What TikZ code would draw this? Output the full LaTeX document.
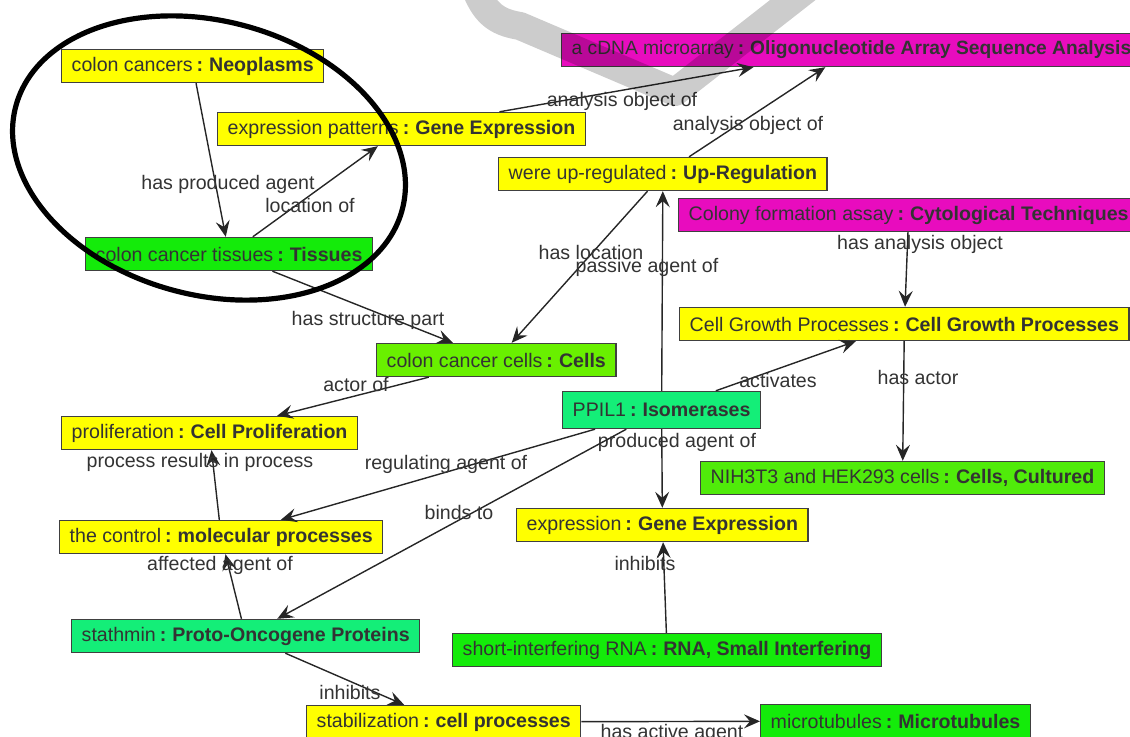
\documentclass[tikz,border=0pt]{standalone}
\usepackage{fontspec}
\setmainfont{Liberation Sans}
\usetikzlibrary{arrows.meta}
\definecolor{cyellow}{RGB}{255,255,0}
\definecolor{cmagenta}{RGB}{232,12,190}
\definecolor{cgreen}{RGB}{20,235,10}
\definecolor{clime}{RGB}{105,240,0}
\definecolor{cnih}{RGB}{80,235,10}
\definecolor{cspring}{RGB}{20,238,120}
\newcommand{\cn}[2]{#1\hspace{2pt}\textbf{:\hspace{3pt}#2}}
\begin{document}
\begin{tikzpicture}[x=0.5pt,y=-0.5pt,
  concept/.style={draw=black!75,line width=0.7pt,anchor=west,minimum height=16.5pt,
    inner xsep=5pt,inner ysep=0pt,font=\fontsize{9.8}{11}\selectfont,text=black!80},
  rel/.style={-{Stealth[length=8pt,width=7pt,inset=3pt]},line width=0.7pt,black!85},
  lbl/.style={font=\fontsize{9.8}{11}\selectfont,text=black!80,inner sep=0pt}]
\useasboundingbox (0,0) rectangle (1130,737);
\clip (0,0) rectangle (1130,737);
% concepts
\node[concept,fill=cyellow] (neo) at (61,66) {\cn{colon cancers}{Neoplasms}};
\node[concept,fill=cyellow] (pat) at (217,129) {\cn{expression patterns}{Gene Expression}};
\node[concept,fill=cmagenta,font=\fontsize{9.6}{11}\selectfont] (micro) at (561,50) {\cn{a cDNA microarray}{Oligonucleotide Array Sequence Analysis}};
\node[concept,fill=cyellow] (upreg) at (498,174) {\cn{were up-regulated}{Up-Regulation}};
\node[concept,fill=cmagenta] (assay) at (678,215) {\cn{Colony formation assay}{Cytological Techniques}};
\node[concept,fill=cgreen] (tis) at (85,254) {\cn{colon cancer tissues}{Tissues}};
\node[concept,fill=clime] (cells) at (376,360) {\cn{colon cancer cells}{Cells}};
\node[concept,fill=cyellow] (growth) at (679,324) {\cn{Cell Growth Processes}{Cell Growth Processes}};
\node[concept,fill=cspring,minimum height=18.5pt] (ppil) at (562,410) {\cn{PPIL1}{Isomerases}};
\node[concept,fill=cyellow] (prolif) at (61,433) {\cn{proliferation}{Cell Proliferation}};
\node[concept,fill=cnih] (nih) at (700,478) {\cn{NIH3T3 and HEK293 cells}{Cells, Cultured}};
\node[concept,fill=cyellow] (ctrl) at (59,537) {\cn{the control}{molecular processes}};
\node[concept,fill=cyellow] (expr) at (516,525) {\cn{expression}{Gene Expression}};
\node[concept,fill=cspring] (stath) at (71,636) {\cn{stathmin}{Proto-Oncogene Proteins}};
\node[concept,fill=cgreen] (sirna) at (452,650) {\cn{short-interfering RNA}{RNA, Small Interfering}};
\node[concept,fill=cyellow] (stab) at (306,722) {\cn{stabilization}{cell processes}};
\node[concept,fill=cgreen] (tub) at (760,721) {\cn{microtubules}{Microtubules}};
% relations
\draw[rel] (neo) -- (tis) node[lbl] at (228,184) {has produced agent};
\draw[rel] (tis) -- (pat) node[lbl] at (310,205) {location of};
\draw[rel] (pat) -- (micro) node[lbl] at (622,101) {analysis object of};
\draw[rel] (upreg) -- (micro) node[lbl] at (748,125) {analysis object of};
\draw[rel] (upreg) -- (cells) node[lbl] at (591,252) {has location};
\draw[rel] (ppil) -- (upreg) node[lbl] at (647,267) {passive agent of};
\draw[rel] (assay) -- (growth) node[lbl] at (920,244) {has analysis object};
\draw[rel] (tis) -- (cells) node[lbl] at (368,320) {has structure part};
\draw[rel] (cells) -- (prolif) node[lbl] at (356,385) {actor of};
\draw[rel] (ppil) -- (growth) node[lbl] at (778,380) {activates};
\draw[rel] (growth) -- (nih) node[lbl] at (918,377) {has actor};
\draw[rel] (ppil) -- (expr) node[lbl] at (677,442) {produced agent of};
\draw[rel] (ppil) -- (ctrl) node[lbl] at (446,464) {regulating agent of};
\draw[rel] (ppil) -- (stath) node[lbl] at (459,512) {binds to};
\draw[rel] (ctrl) -- (prolif) node[lbl] at (200,462) {process results in process};
\draw[rel] (stath) -- (ctrl) node[lbl] at (220,565) {affected agent of};
\draw[rel] (sirna) -- (expr) node[lbl] at (645,563) {inhibits};
\draw[rel] (stath) -- (stab) node[lbl] at (350,692) {inhibits};
\draw[rel] (stab) -- (tub) node[lbl] at (672,733) {has active agent};
% hand drawn marks
\draw[line width=2.6pt,rotate around={-15:(209,158)}] (209,158) ellipse [x radius=100pt,y radius=68.5pt];
\draw[line width=14pt,black,opacity=0.2,line join=round] (474,-15) .. controls (484,12) and (495,22) .. (520,26) -- (675,92) -- (812,-15);
\end{tikzpicture}
\end{document}
